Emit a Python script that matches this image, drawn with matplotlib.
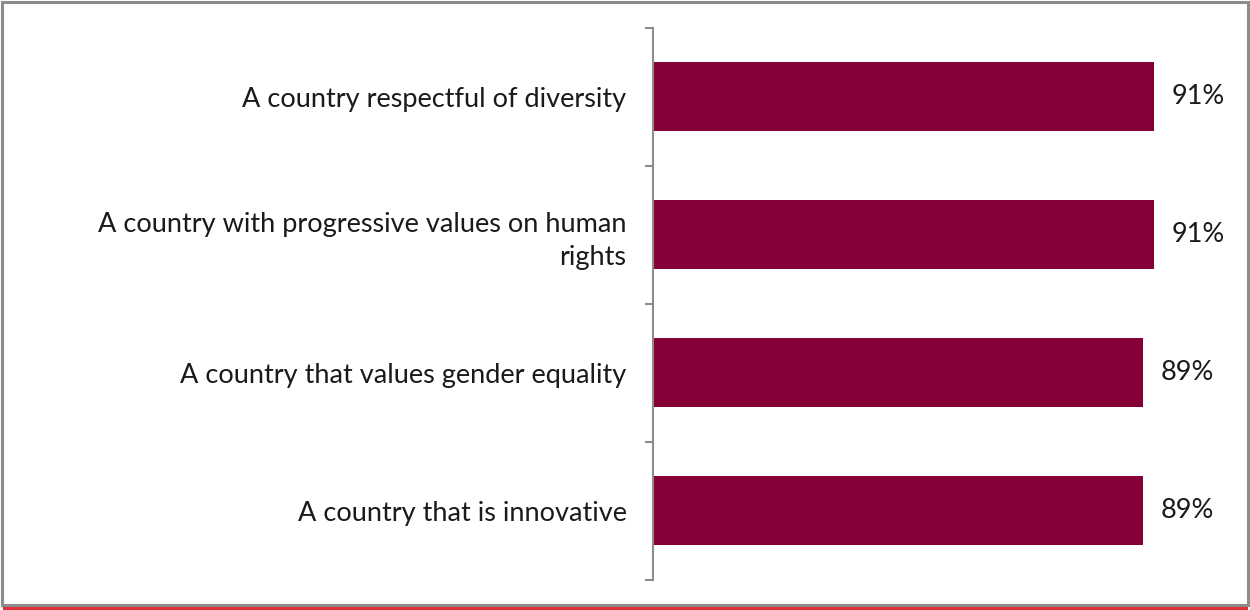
"""Horizontal bar chart of country perception shares."""
import matplotlib.pyplot as plt
from matplotlib.patches import Rectangle
from matplotlib.lines import Line2D

categories = [
    "A country respectful of diversity",
    "A country with progressive values on human\nrights",
    "A country that values gender equality",
    "A country that is innovative",
]
values = [91, 91, 89, 89]
value_labels = ["91%", "91%", "89%", "89%"]

BAR_COLOR = "#850038"
AXIS_GRAY = "#8c8c8c"

plt.rcParams["font.family"] = ["Lato", "DejaVu Sans"]

fig = plt.figure(figsize=(12.5, 6.1), dpi=100)
ax = fig.add_axes([0.5224, 0.0492, 0.44, 0.9049])

pos = list(range(len(categories)))
ax.barh(pos, values, height=0.5, color=BAR_COLOR, edgecolor="none")
ax.set_ylim(len(categories) - 0.5, -0.5)
ax.set_xlim(0, 100)

for p, v, lab in zip(pos, values, value_labels):
    ax.annotate(lab, (v, p), xytext=(13, 0), textcoords="offset points",
                ha="left", va="center", fontsize=19.5, color="#1a1a1a")

# tick marks sit on category boundaries, labels sit at the centres
ax.set_yticks([i - 0.5 for i in range(len(categories) + 1)])
ax.set_yticklabels([])
ax.tick_params(axis="y", which="major", length=6, width=1.5, color=AXIS_GRAY,
               direction="out")
ax.set_yticks(pos, minor=True)
ax.set_yticklabels(categories, minor=True, fontsize=19.5, color="#1a1a1a",
                   ha="right", multialignment="right", linespacing=1.4)
ax.tick_params(axis="y", which="minor", length=0, pad=19)

ax.set_xticks([])
for side in ("top", "right", "bottom"):
    ax.spines[side].set_visible(False)
ax.spines["left"].set_color(AXIS_GRAY)
ax.spines["left"].set_linewidth(1.5)

# outer frame with a red rule along the bottom
fig.patches.append(Rectangle((0.0016, 0.0082), 0.9968, 0.9885, transform=fig.transFigure,
                             fill=False, edgecolor="#8c8c8c", linewidth=2.2))
fig.lines.append(Line2D([0.003, 0.997], [0.0025, 0.0025], transform=fig.transFigure,
                        color="#e0303a", linewidth=2.2))

fig.savefig("out.png", dpi=100)
